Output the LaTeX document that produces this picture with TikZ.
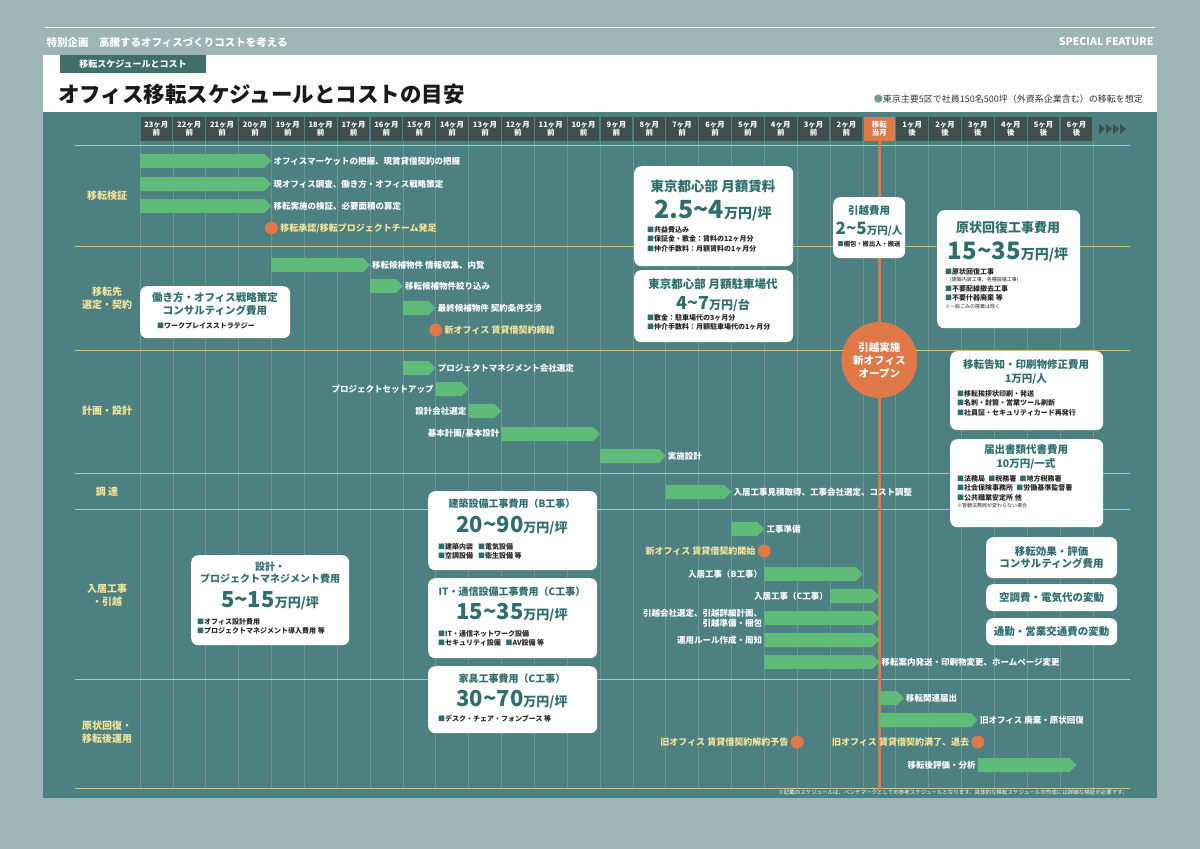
\documentclass[tikz,border=0pt]{standalone}
\usepackage{fontspec}
\setmainfont{Noto Sans CJK JP}
\usetikzlibrary{calc}
\definecolor{outerbg}{RGB}{158,181,182}
\definecolor{panel}{RGB}{77,128,128}
\definecolor{hdr}{RGB}{62,79,77}
\definecolor{orng}{RGB}{224,120,72}
\definecolor{barg}{RGB}{95,187,120}
\definecolor{ylw}{RGB}{243,227,154}
\definecolor{tealt}{RGB}{46,110,110}
\definecolor{rowline}{RGB}{197,199,138}
\definecolor{gridl}{RGB}{110,150,150}
\definecolor{tabc}{RGB}{63,110,107}
\newcommand\cx[1]{{140+(#1)*32.86}}
\newcommand\cv[1]{140+(#1)*32.86}
\newcommand\gbar[3]{\fill[barg] (\cx{#1},#3-7) -- ({140+(#2)*32.86-7},#3-7) -- (\cx{#2},#3) -- ({140+(#2)*32.86-7},#3+7) -- (\cx{#1},#3+7) -- cycle;}
\newcommand\sq{\textcolor{tealt}{■}}
\tikzset{
 lbl/.style={text=white,font=\bfseries\fontsize{8.5}{9.5}\selectfont,inner sep=2pt},
 mst/.style={text=ylw,font=\bfseries\fontsize{9}{10}\selectfont,inner sep=2pt},
 rowlab/.style={text=ylw,font=\bfseries\fontsize{10}{12.5}\selectfont,align=center},
 cbox/.style={fill=white,rounded corners=7pt,anchor=north west,inner sep=0pt},
 btitle/.style={text=tealt,font=\bfseries,align=center,inner sep=0pt},
 items/.style={text=black!85,font=\bfseries\fontsize{7}{9.5}\selectfont,align=left,anchor=north west,inner sep=0pt},
 dot/.style={circle,fill=orng,minimum size=13pt,inner sep=0pt}
}
\begin{document}
\begin{tikzpicture}[x=1pt,y=-1pt]
\useasboundingbox (0,0) rectangle (1200,849);
\fill[outerbg] (0,0) rectangle (1200,849);
\draw[white,line width=0.8pt] (45,27) -- (1155,27);
\node[anchor=west,text=white,font=\bfseries\fontsize{10.5}{12}\selectfont] (hl) at (43,42) {特別企画\quad 高騰するオフィスづくりコストを考える};
\node[anchor=east,text=white,font=\bfseries\fontsize{10.5}{12}\selectfont] (hr) at (1157,42) {SPECIAL FEATURE};
\fill[white] (43,55) rectangle (1157,112);
\fill[tabc] (60,55) rectangle (206,73);
\node[text=white,font=\bfseries\fontsize{9}{10}\selectfont] (tab) at (133,64) {移転スケジュールとコスト};
\node[anchor=west,text=black!90,font=\bfseries\fontsize{21.5}{24}\selectfont,inner sep=0pt] (title) at (58,94) {オフィス移転スケジュールとコストの目安};
\node[anchor=east,text=black!80,font=\fontsize{9}{10}\selectfont,inner sep=0pt] (note) at (1143,99) {\textcolor{tealt!70}{●}東京主要5区で社員150名500坪（外資系企業含む）の移転を想定};
\fill[panel] (43,112) rectangle (1157,798);
\foreach \i in {0,...,29} \draw[gridl,line width=0.6pt] ({\cv{\i}},141) -- ({\cv{\i}},788);
\foreach \mm [count=\k from 0] in {23,22,...,2} {
 \fill[hdr] ({\cv{\k}+0.6},117) rectangle ({\cv{\k+1}-0.6},141);
 \node[text=white,font=\bfseries\fontsize{7.5}{8}\selectfont,align=center,inner sep=0pt] at ({\cv{\k+0.5}},129) {\mm ヶ月\\前};
}
\fill[orng] ({\cv{22}+0.6},117) rectangle ({\cv{23}-0.6},141);
\node[text=white,font=\bfseries\fontsize{7.5}{8}\selectfont,align=center,inner sep=0pt] at ({\cv{22.5}},129) {移転\\当月};
\foreach \mm [count=\k from 23] in {1,...,6} {
 \fill[hdr] ({\cv{\k}+0.6},117) rectangle ({\cv{\k+1}-0.6},141);
 \node[text=white,font=\bfseries\fontsize{7.5}{8}\selectfont,align=center,inner sep=0pt] at ({\cv{\k+0.5}},129) {\mm ヶ月\\後};
}
\foreach \xx in {1099,1106,1113,1120} \fill[hdr] (\xx,124) -- (\xx+6,129) -- (\xx,134) -- cycle;
\foreach \yy in {145,246,350,473,509,679,788} \draw[rowline,line width=0.8pt] (75,\yy) -- (1130,\yy);
\node[rowlab] (r1) at (107,196) {移転検証};
\node[rowlab] (r2) at (107,298) {移転先\\選定・契約};
\node[rowlab] (r3) at (107,411) {計画・設計};
\node[rowlab] (r4) at (107,492) {調 達};
\node[rowlab] (r5) at (107,595) {入居工事\\・引越};
\node[rowlab] (r6) at (107,732) {原状回復・\\移転後運用};
\draw[orng,line width=3pt] (\cx{22.5},141) -- (\cx{22.5},790);
\node[circle,fill=orng,minimum size=76pt,inner sep=0pt,text=white,font=\bfseries\fontsize{10.5}{13}\selectfont,align=center] (open) at (\cx{22.5},360) {引越実施\\新オフィス\\オープン};
\gbar{0}{4}{161}\node[lbl,anchor=west] at (\cx{4},161) {オフィスマーケットの把握、現賃貸借契約の把握};
\gbar{0}{4}{184}\node[lbl,anchor=west] at (\cx{4},184) {現オフィス調査、働き方・オフィス戦略策定};
\gbar{0}{4}{206}\node[lbl,anchor=west] at (\cx{4},206) {移転実施の検証、必要面積の算定};
\node[dot] (m1) at (\cx{4},228) {};\node[mst,anchor=west] at (m1.east) {移転承認/移転プロジェクトチーム発足};
\gbar{4}{7}{265}\node[lbl,anchor=west] at (\cx{7},265) {移転候補物件 情報収集、内覧};
\gbar{7}{8}{286}\node[lbl,anchor=west] at (\cx{8},286) {移転候補物件絞り込み};
\gbar{8}{9}{308}\node[lbl,anchor=west] at (\cx{9},308) {最終候補物件 契約条件交渉};
\node[dot] (m2) at (\cx{9},330) {};\node[mst,anchor=west] at (m2.east) {新オフィス 賃貸借契約締結};
\gbar{8}{9}{368}\node[lbl,anchor=west] at (\cx{9},368) {プロジェクトマネジメント会社選定};
\gbar{9}{10}{389}\node[lbl,anchor=east] at (\cx{9},389) {プロジェクトセットアップ};
\gbar{10}{11}{411}\node[lbl,anchor=east] at (\cx{10},411) {設計会社選定};
\gbar{11}{14}{434}\node[lbl,anchor=east] at (\cx{11},434) {基本計画/基本設計};
\gbar{14}{16}{456}\node[lbl,anchor=west] at (\cx{16},456) {実施設計};
\gbar{16}{18}{492}\node[lbl,anchor=west] at (\cx{18},492) {入居工事見積取得、工事会社選定、コスト調整};
\gbar{18}{19}{529}\node[lbl,anchor=west] at (\cx{19},529) {工事準備};
\node[dot] (m3) at (\cx{19},551) {};\node[mst,anchor=east] at (m3.west) {新オフィス 賃貸借契約開始};
\gbar{19}{22}{574}\node[lbl,anchor=east] at (\cx{19},574) {入居工事（B工事）};
\gbar{21}{22.5}{596}\node[lbl,anchor=east] at (\cx{21},596) {入居工事（C工事）};
\gbar{19}{22.5}{618}\node[lbl,anchor=east,align=right,font=\bfseries\fontsize{8.5}{10}\selectfont] at (\cx{19},618) {引越会社選定、引越詳細計画、\\引越準備・梱包};
\gbar{19}{22.5}{640}\node[lbl,anchor=east] at (\cx{19},640) {運用ルール作成・周知};
\gbar{19}{22.5}{662}\node[lbl,anchor=west] at (\cx{22.5},662) {移転案内発送・印刷物変更、ホームページ変更};
\gbar{22.5}{23.25}{698}\node[lbl,anchor=west] at (\cx{23.25},698) {移転関連届出};
\gbar{22.5}{25.5}{720}\node[lbl,anchor=west] at (\cx{25.5},720) {旧オフィス 廃棄・原状回復};
\node[dot] (m4) at (\cx{20},742) {};\node[mst,anchor=east] at (m4.west) {旧オフィス 賃貸借契約解約予告};
\node[dot] (m5) at (\cx{25.5},742) {};\node[mst,anchor=east] at (m5.west) {旧オフィス 賃貸借契約満了、退去};
\gbar{25.5}{28.5}{765}\node[lbl,anchor=east] at (\cx{25.5},765) {移転後評価・分析};
\node[cbox,minimum width=150pt,minimum height=52pt] (bA) at (140,286) {};
\node[btitle,font=\bfseries\fontsize{10.5}{12.5}\selectfont] at (215,304) {働き方・オフィス戦略策定\\コンサルティング費用};
\node[items] at (157,322) {\sq ワークプレイスストラテジー};
\node[cbox,minimum width=159pt,minimum height=100pt] (bB) at (634,166) {};
\node[btitle,font=\bfseries\fontsize{13.5}{15}\selectfont] at (713,186) {東京都心部 月額賃料};
\node[btitle] at (713,211) {\fontsize{25}{27}\selectfont 2.5\textasciitilde 4\fontsize{14}{15}\selectfont 万円/坪};
\node[items] at (647,226) {\sq 共益費込み\\\sq 保証金・敷金：賃料の12ヶ月分\\\sq 仲介手数料：月額賃料の1ヶ月分};
\node[cbox,minimum width=159pt,minimum height=72pt] (bC) at (634,270) {};
\node[btitle,font=\bfseries\fontsize{11.5}{13}\selectfont] at (713,284) {東京都心部 月額駐車場代};
\node[btitle] at (713,304) {\fontsize{18}{19}\selectfont 4\textasciitilde 7\fontsize{12}{13}\selectfont 万円/台};
\node[items] at (647,314) {\sq 敷金：駐車場代の3ヶ月分\\\sq 仲介手数料：月額駐車場代の1ヶ月分};
\node[cbox,minimum width=72pt,minimum height=61pt] (bD) at (833,197) {};
\node[btitle,font=\bfseries\fontsize{10.5}{12}\selectfont] at (869,211) {引越費用};
\node[btitle] at (869,229) {\fontsize{17}{18}\selectfont 2\textasciitilde 5\fontsize{10.5}{12}\selectfont 万円/人};
\node[items,anchor=north,font=\bfseries\fontsize{6.3}{8}\selectfont] at (869,241) {\sq 梱包・搬出入・搬送};
\node[cbox,minimum width=143pt,minimum height=118pt] (bE) at (937,210) {};
\node[btitle,font=\bfseries\fontsize{13}{15}\selectfont] at (1008,228) {原状回復工事費用};
\node[btitle] at (1008,252) {\fontsize{24}{25}\selectfont 15\textasciitilde 35\fontsize{14}{15}\selectfont 万円/坪};
\node[items] at (945,268) {\sq 原状回復工事\\[-2pt]{\fontsize{5}{6}\selectfont\mdseries\quad (建築内装工事、各種設備工事)}\\\sq 不要配線撤去工事\\\sq 不要什器廃棄 等\\[-2pt]{\fontsize{5}{6}\selectfont\mdseries ※一般ごみの廃棄は除く}};
\node[cbox,minimum width=153pt,minimum height=79pt] (bF) at (950,351) {};
\node[btitle,font=\bfseries\fontsize{10.5}{13.5}\selectfont] at (1026,372) {移転告知・印刷物修正費用\\1万円/人};
\node[items] at (957,390) {\sq 移転挨拶状印刷・発送\\\sq 名刺・封筒・営業ツール刷新\\\sq 社員証・セキュリティカード再発行};
\node[cbox,minimum width=153pt,minimum height=88pt] (bG) at (950,439) {};
\node[btitle,font=\bfseries\fontsize{10.5}{13.5}\selectfont] at (1026,457) {届出書類代書費用\\10万円/一式};
\node[items] at (957,475) {\sq 法務局\ \ \sq 税務署\ \ \sq 地方税務署\\\sq 社会保険事務所\ \ \sq 労働基準監督署\\\sq 公共職業安定所 他\\[-2pt]{\fontsize{5}{6}\selectfont\mdseries ※管轄法務局が変わらない場合}};
\node[cbox,minimum width=131pt,minimum height=41pt] (bH) at (986,537) {};
\node[btitle,font=\bfseries\fontsize{10.5}{12.5}\selectfont] at (1051.5,557.5) {移転効果・評価\\コンサルティング費用};
\node[cbox,minimum width=131pt,minimum height=27pt] (bI) at (986,584) {};
\node[btitle,font=\bfseries\fontsize{10.5}{12}\selectfont] at (1051.5,597.5) {空調費・電気代の変動};
\node[cbox,minimum width=131pt,minimum height=27pt] (bJ) at (986,618) {};
\node[btitle,font=\bfseries\fontsize{10.5}{12}\selectfont] at (1051.5,631.5) {通勤・営業交通費の変動};
\node[cbox,minimum width=158pt,minimum height=90pt] (bK) at (191,555) {};
\node[btitle,font=\bfseries\fontsize{10}{12}\selectfont] at (270,573) {設計・\\プロジェクトマネジメント費用};
\node[btitle] at (270,601) {\fontsize{22}{23}\selectfont 5\textasciitilde 15\fontsize{13}{14}\selectfont 万円/坪};
\node[items] at (197,618) {\sq オフィス設計費用\\\sq プロジェクトマネジメント導入費用 等};
\node[cbox,minimum width=169pt,minimum height=79pt] (bL) at (428,491) {};
\node[btitle,font=\bfseries\fontsize{10}{11}\selectfont] at (512,504) {建築設備工事費用（B工事）};
\node[btitle] at (512,526) {\fontsize{22}{23}\selectfont 20\textasciitilde 90\fontsize{13}{14}\selectfont 万円/坪};
\node[items] at (438,543) {\sq 建築内装\ \ \ \sq 電気設備\\\sq 空調設備\ \ \ \sq 衛生設備 等};
\node[cbox,minimum width=169pt,minimum height=80pt] (bM) at (428,578) {};
\node[btitle,font=\bfseries\fontsize{10}{11}\selectfont] at (512,592) {IT・通信設備工事費用（C工事）};
\node[btitle] at (512,613) {\fontsize{22}{23}\selectfont 15\textasciitilde 35\fontsize{13}{14}\selectfont 万円/坪};
\node[items] at (438,630) {\sq IT・通信ネットワーク設備\\\sq セキュリティ設備\ \ \ \sq AV設備 等};
\node[cbox,minimum width=169pt,minimum height=67pt] (bN) at (428,666) {};
\node[btitle,font=\bfseries\fontsize{10}{11}\selectfont] at (512,679) {家具工事費用（C工事）};
\node[btitle] at (512,700) {\fontsize{22}{23}\selectfont 30\textasciitilde 70\fontsize{13}{14}\selectfont 万円/坪};
\node[items] at (438,715) {\sq デスク・チェア・フォンブース 等};
\node[anchor=east,text=white!90,font=\fontsize{5.5}{6}\selectfont,inner sep=0pt] (foot) at (1128,792) {※記載のスケジュールは、ベンチマークとしての参考スケジュールとなります。具体的な移転スケジュールの作成には詳細な検証が必要です。};
\end{tikzpicture}
\end{document}
